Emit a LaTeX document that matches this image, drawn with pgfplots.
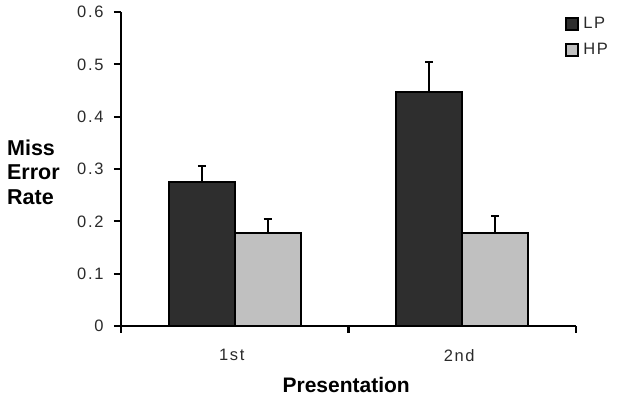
\documentclass[border=0pt]{standalone}
\usepackage{pgfplots}
\pgfplotsset{compat=1.18}
\usepackage{fontspec}
\setmainfont{Liberation Sans}
\newfontfamily\tickfont[LetterSpace=10]{Liberation Sans}
\definecolor{lp}{HTML}{2E2E2E}
\definecolor{hp}{HTML}{C0C0C0}
\definecolor{txt}{HTML}{2A2A2A}
\begin{document}
\begin{tikzpicture}
\begin{axis}[
  scale only axis, width=455pt, height=314pt,
  xmin=-0.5, xmax=1.5, ymin=0, ymax=0.6,
  axis lines*=left,
  axis line style={line width=2.4pt, black},
  ybar=0pt, bar width=0.29,
  ytick={0,0.1,0.2,0.3,0.4,0.5,0.6},
  yticklabels={0,0.1,0.2,0.3,0.4,0.5,0.6},
  xtick={-0.5,0.5,1.5}, xticklabels={},
  extra x ticks={0,1}, extra x tick labels={1st,2nd},
  extra x tick style={major tick length=0pt, xticklabel style={yshift=-20pt, xshift=-3pt}},
  tick align=outside, major tick length=7pt,
  tick style={line width=2.2pt, black},
  ticklabel style={font=\tickfont\fontsize{16.5}{16.5}\selectfont, text=txt},
  yticklabel style={xshift=-7pt},
  clip=false,
  legend style={draw=none, fill=none, at={(rel axis cs:0.976,0.99)}, anchor=north west,
    font=\tickfont\fontsize{16.5}{16.5}\selectfont, text=txt, inner sep=0pt, row sep=9pt,
    /tikz/every odd column/.append style={column sep=2pt}},
  legend cell align=left,
]
\coordinate (ll) at (rel axis cs:0,0);
\addplot[fill=lp, draw=black, line width=2pt,
  legend image code/.code={\draw[fill=lp, draw=black, line width=2pt] (0pt,-6pt) rectangle (12pt,6pt);},
  error bars/.cd, y dir=plus, y explicit,
  error bar style={line width=2pt, black},
  error mark options={rotate=90, mark size=4pt, line width=2.2pt, black}]
  coordinates {(0,0.275) +- (0,0.031) (1,0.448) +- (0,0.057)};
\addlegendentry{LP}
\addplot[fill=hp, draw=black, line width=2pt,
  legend image code/.code={\draw[fill=hp, draw=black, line width=2pt] (0pt,-6pt) rectangle (12pt,6pt);},
  error bars/.cd, y dir=plus, y explicit,
  error bar style={line width=2pt, black},
  error mark options={rotate=90, mark size=4pt, line width=2.2pt, black}]
  coordinates {(0,0.177) +- (0,0.027) (1,0.177) +- (0,0.033)};
\addlegendentry{HP}
\node[anchor=west, align=left, font=\bfseries\fontsize{21.5}{24.5}\selectfont, text=black]
  at (rel axis cs:-0.258,0.49) {Miss\\Error\\Rate};
\node[font=\bfseries\fontsize{21}{24}\selectfont, text=black]
  at (rel axis cs:0.495,-0.188) {Presentation};
\end{axis}
\pgfresetboundingbox
\path ([shift={(-121pt,-77pt)}]ll) rectangle ([shift={(519pt,326pt)}]ll);
\end{tikzpicture}
\end{document}
